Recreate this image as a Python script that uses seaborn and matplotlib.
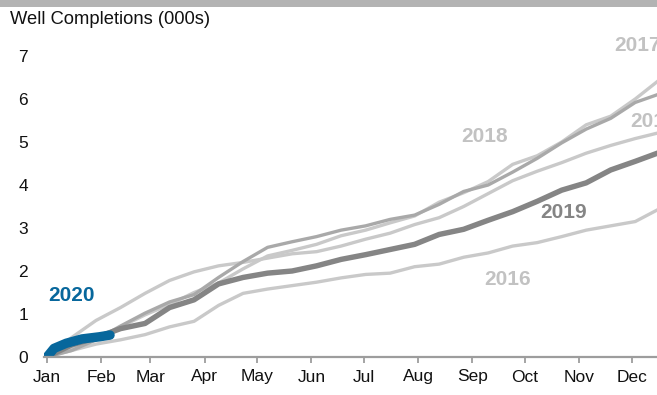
import numpy as np
import pandas as pd
import matplotlib
matplotlib.use("Agg")
import matplotlib.pyplot as plt
from matplotlib.patches import Rectangle
import seaborn as sns

# Day of year for each cumulative reading (roughly every two weeks)
days = [0, 14, 28, 42, 56, 70, 84, 98, 112, 126, 140, 154, 168,
        182, 196, 210, 224, 238, 252, 266, 280, 294, 308, 322, 336, 350]

# Cumulative well completions, thousands
y2015 = [0, 0.45, 0.85, 1.15, 1.48, 1.78, 1.98, 2.12, 2.20, 2.30, 2.40, 2.45, 2.58,
         2.74, 2.88, 3.08, 3.24, 3.50, 3.80, 4.10, 4.32, 4.52, 4.74, 4.92, 5.08, 5.22]
y2016 = [0, 0.15, 0.30, 0.40, 0.52, 0.70, 0.83, 1.20, 1.48, 1.58, 1.66, 1.74, 1.84,
         1.92, 1.95, 2.10, 2.16, 2.32, 2.42, 2.58, 2.66, 2.80, 2.95, 3.05, 3.15, 3.45]
y2017 = [0, 0.20, 0.42, 0.70, 0.98, 1.22, 1.50, 1.72, 2.05, 2.35, 2.48, 2.62, 2.82,
         2.95, 3.12, 3.28, 3.60, 3.82, 4.08, 4.48, 4.68, 5.00, 5.40, 5.60, 6.00, 6.45]
y2018 = [0, 0.15, 0.40, 0.72, 1.02, 1.28, 1.45, 1.85, 2.22, 2.55, 2.68, 2.80, 2.95,
         3.05, 3.20, 3.30, 3.55, 3.85, 4.00, 4.30, 4.62, 4.98, 5.30, 5.55, 5.92, 6.12]
y2019 = [0, 0.28, 0.45, 0.66, 0.78, 1.15, 1.33, 1.70, 1.85, 1.95, 2.00, 2.12, 2.27,
         2.38, 2.50, 2.62, 2.85, 2.97, 3.18, 3.38, 3.62, 3.88, 4.05, 4.35, 4.55, 4.76]

days_2020 = [0, 4, 11, 20, 30, 36]
y2020 = [0, 0.20, 0.32, 0.42, 0.47, 0.51]

month_starts = [0, 31, 59, 90, 120, 151, 181, 212, 243, 273, 304, 334]
month_labels = ["Jan", "Feb", "Mar", "Apr", "May", "Jun",
                "Jul", "Aug", "Sep", "Oct", "Nov", "Dec"]
y_ticks = [0, 1, 2, 3, 4, 5, 6, 7]

sns.set_theme(style="white")
plt.rcParams["font.family"] = ["Liberation Sans", "DejaVu Sans"]

LIGHT = "#c9c9c9"
MID = "#a9a9a9"
DARK = "#858585"
BLUE = "#07679c"
LABEL_LIGHT = "#c2c2c2"

fig = plt.figure(figsize=(6.57, 3.95), dpi=100)
# thin grey band across the top
fig.add_artist(Rectangle((0, 1 - 7 / 395), 1, 7 / 395, transform=fig.transFigure,
                         facecolor="#b3b3b3", edgecolor="none"))

ax = fig.add_axes([43.5 / 657, 38 / 395, 642.5 / 657, 7.5 * 43 / 395])

df = pd.DataFrame({"day": days, "2015": y2015, "2016": y2016,
                   "2017": y2017, "2018": y2018, "2019": y2019})
styles = [("2016", LIGHT, 2.4), ("2015", LIGHT, 2.4), ("2017", LIGHT, 2.4),
          ("2018", MID, 2.4), ("2019", DARK, 3.9)]
for name, color, lw in styles:
    sns.lineplot(data=df, x="day", y=name, color=color, linewidth=lw, ax=ax,
                 solid_capstyle="butt")

df20 = pd.DataFrame({"day": days_2020, "value": y2020})
sns.lineplot(data=df20, x="day", y="value", color=BLUE, linewidth=6.8, ax=ax,
             solid_capstyle="round")

ax.set_xlim(-2, 365)
ax.set_ylim(0, 7.5)
ax.set_xlabel("")
ax.set_ylabel("")

ax.set_xticks(month_starts)
ax.set_xticklabels(month_labels)
ax.set_yticks(y_ticks)
ax.set_yticklabels([str(v) for v in y_ticks])

for side in ["top", "right", "left"]:
    ax.spines[side].set_visible(False)
ax.spines["bottom"].set_color("#9d9d9d")
ax.spines["bottom"].set_linewidth(1.6)
ax.tick_params(axis="x", direction="out", length=4, width=1.3, color="#9d9d9d",
               labelsize=12.5, pad=5, labelcolor="#111111", bottom=True)
ax.tick_params(axis="y", length=0, labelsize=12.5, pad=11, labelcolor="#111111")
ax.grid(False)

# series labels
ax.text(14, 1.42, "2020", color=BLUE, fontsize=15, fontweight="bold",
        ha="center", va="center")
ax.text(250, 5.12, "2018", color=LABEL_LIGHT, fontsize=15, fontweight="bold",
        ha="center", va="center")
ax.text(295, 3.37, "2019", color=DARK, fontsize=15, fontweight="bold",
        ha="center", va="center")
ax.text(263, 1.81, "2016", color=LABEL_LIGHT, fontsize=15, fontweight="bold",
        ha="center", va="center")
ax.text(324, 7.25, "2017", color=LABEL_LIGHT, fontsize=15, fontweight="bold",
        ha="left", va="center", clip_on=False)
ax.text(333, 5.47, "2015", color=LABEL_LIGHT, fontsize=15, fontweight="bold",
        ha="left", va="center", clip_on=False)

fig.text(10 / 657, 1 - 19 / 395, "Well Completions (000s)", fontsize=13.2,
         color="#111111", ha="left", va="center")

fig.savefig("out.png", dpi=100)
